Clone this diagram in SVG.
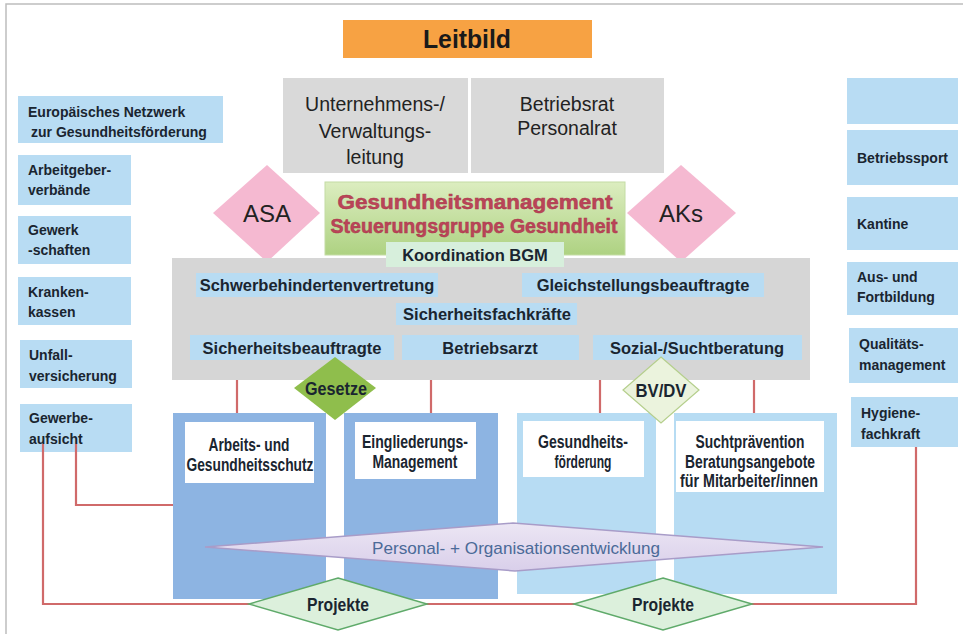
<svg xmlns="http://www.w3.org/2000/svg" width="963" height="634" viewBox="0 0 963 634">
<defs>
<linearGradient id="gGreen" x1="0" y1="0" x2="0" y2="1"><stop offset="0" stop-color="#dcedc0"/><stop offset="1" stop-color="#aed282"/></linearGradient>
<linearGradient id="gLav" x1="0" y1="0" x2="0" y2="1"><stop offset="0" stop-color="#ece6f4"/><stop offset="1" stop-color="#d9cfea"/></linearGradient>
<style>
.ext{fill:#b8dcf3}
.lbl{fill:#b8dcf3}
.t{font-family:"Liberation Sans",Arial,sans-serif;font-weight:bold;font-size:14px;fill:#1a2530}
.tm{font-family:"Liberation Sans",Arial,sans-serif;font-weight:bold;font-size:16.5px;fill:#1a2530;text-anchor:middle}
.tn{font-family:"Liberation Sans",Arial,sans-serif;font-weight:bold;font-size:17.5px;fill:#1a2530;text-anchor:middle}
.tg{font-family:"Liberation Sans",Arial,sans-serif;font-size:19.5px;fill:#222;text-anchor:middle}
.gray{fill:#d9d9d9}
.colD{fill:#8db4e2}
.colL{fill:#b7dcf3}
.wb{fill:#ffffff}
.pink{fill:#f5b9d1}
.red{fill:none;stroke:#d06a6a;stroke-width:2.2}
.proj{fill:#dcf0dc;stroke:#5faa6a;stroke-width:1.5}
</style>
</defs>
<rect x="0" y="0" width="963" height="634" fill="#ffffff"/>
<path d="M6 640 V4 H970" fill="none" stroke="#bdbdbd" stroke-width="1.5"/>

<g id="leitbild">
<rect x="343" y="20" width="249" height="38" fill="#f7a243"/>
<text x="467" y="48" text-anchor="middle" font-family="Liberation Sans,Arial,sans-serif" font-weight="bold" font-size="25" fill="#1a1a1a" textLength="88" lengthAdjust="spacingAndGlyphs">Leitbild</text>
</g>

<g id="leitung">
<rect class="gray" x="283" y="78" width="185" height="95"/>
<text class="tg" x="375" y="111">Unternehmens-/</text>
<text class="tg" x="375" y="138">Verwaltungs-</text>
<text class="tg" x="375" y="164">leitung</text>
</g>
<g id="betriebsrat">
<rect class="gray" x="471" y="78" width="193" height="95"/>
<text class="tg" x="567" y="111">Betriebsrat</text>
<text class="tg" x="567" y="135">Personalrat</text>
</g>

<g id="asa">
<polygon class="pink" points="267,165 320,213 267,262 213,213"/>
<text x="267" y="222" text-anchor="middle" font-family="Liberation Sans,Arial,sans-serif" font-size="24" fill="#222">ASA</text>
</g>
<g id="aks">
<polygon class="pink" points="681,165 736,213 681,262 627,213"/>
<text x="681" y="222" text-anchor="middle" font-family="Liberation Sans,Arial,sans-serif" font-size="24" fill="#222">AKs</text>
</g>

<g id="gremien">
<rect x="172" y="258" width="638" height="122" fill="#d6d6d6"/>
</g>

<g id="gesundheitsmanagement">
<rect x="325" y="182" width="300" height="73" fill="url(#gGreen)" stroke="#c4dca4" stroke-width="1"/>
<text x="475" y="209" text-anchor="middle" font-family="Liberation Sans,Arial,sans-serif" font-weight="bold" font-size="21" fill="#bb4458" stroke="#a83a4c" stroke-width="0.5" textLength="275" lengthAdjust="spacingAndGlyphs">Gesundheitsmanagement</text>
<text x="474" y="233" text-anchor="middle" font-family="Liberation Sans,Arial,sans-serif" font-weight="bold" font-size="20" fill="#bb4458" stroke="#a83a4c" stroke-width="0.5" textLength="287" lengthAdjust="spacingAndGlyphs">Steuerungsgruppe Gesundheit</text>
</g>
<g id="koordination">
<rect x="386" y="242" width="178" height="25" fill="#d7efdc"/>
<text class="tm" x="475" y="261">Koordination BGM</text>
</g>

<g id="schwerbehindertenvertretung"><rect class="lbl" x="196" y="273" width="242" height="24"/><text class="tm" x="317" y="291">Schwerbehindertenvertretung</text></g>
<g id="gleichstellungsbeauftragte"><rect class="lbl" x="522" y="273" width="242" height="24"/><text class="tm" x="643" y="291">Gleichstellungsbeauftragte</text></g>
<g id="sicherheitsfachkraefte"><rect class="lbl" x="396" y="303" width="181" height="22"/><text class="tm" x="487" y="320">Sicherheitsfachkräfte</text></g>
<g id="sicherheitsbeauftragte"><rect class="lbl" x="190" y="335" width="204" height="25"/><text class="tm" x="292" y="354">Sicherheitsbeauftragte</text></g>
<g id="betriebsarzt"><rect class="lbl" x="402" y="335" width="177" height="25"/><text class="tm" x="490" y="354">Betriebsarzt</text></g>
<g id="suchtberatung"><rect class="lbl" x="593" y="335" width="209" height="25"/><text class="tm" x="697" y="354">Sozial-/Suchtberatung</text></g>

<g id="europaeisches-netzwerk"><rect class="ext" x="18" y="96" width="205" height="47"/><text class="t" x="28" y="117">Europäisches Netzwerk</text><text class="t" x="31" y="137">zur Gesundheitsförderung</text></g>
<g id="arbeitgeberverbaende"><rect class="ext" x="18" y="155" width="113" height="50"/><text class="t" x="28" y="175">Arbeitgeber-</text><text class="t" x="28" y="195">verbände</text></g>
<g id="gewerkschaften"><rect class="ext" x="18" y="216" width="113" height="48"/><text class="t" x="28" y="235">Gewerk</text><text class="t" x="28" y="255">-schaften</text></g>
<g id="krankenkassen"><rect class="ext" x="18" y="277" width="113" height="48"/><text class="t" x="28" y="297">Kranken-</text><text class="t" x="28" y="317">kassen</text></g>
<g id="unfallversicherung"><rect class="ext" x="20" y="340" width="112" height="48"/><text class="t" x="29" y="360">Unfall-</text><text class="t" x="29" y="381">versicherung</text></g>
<g id="gewerbeaufsicht"><rect class="ext" x="20" y="404" width="112" height="48"/><text class="t" x="29" y="423">Gewerbe-</text><text class="t" x="29" y="444">aufsicht</text></g>

<g id="leer"><rect class="ext" x="847" y="78" width="111" height="46"/></g>
<g id="betriebssport"><rect class="ext" x="847" y="130" width="111" height="55"/><text class="t" x="857" y="163" font-size="14.5">Betriebssport</text></g>
<g id="kantine"><rect class="ext" x="847" y="197" width="111" height="53"/><text class="t" x="857" y="229" font-size="14.5">Kantine</text></g>
<g id="fortbildung"><rect class="ext" x="847" y="262" width="111" height="53"/><text class="t" x="857" y="282" font-size="14.5">Aus- und</text><text class="t" x="857" y="302" font-size="14.5">Fortbildung</text></g>
<g id="qualitaetsmanagement"><rect class="ext" x="849" y="328" width="109" height="55"/><text class="t" x="859" y="349" font-size="14.5">Qualitäts-</text><text class="t" x="859" y="370" font-size="14.5">management</text></g>
<g id="hygienefachkraft"><rect class="ext" x="851" y="397" width="107" height="50"/><text class="t" x="861" y="418" font-size="14.5">Hygiene-</text><text class="t" x="861" y="439" font-size="14.5">fachkraft</text></g>

<g id="connectors">
<line class="red" x1="237" y1="380" x2="237" y2="413"/>
<line class="red" x1="431" y1="380" x2="431" y2="413"/>
<line class="red" x1="600" y1="380" x2="600" y2="413"/>
<line class="red" x1="754" y1="380" x2="754" y2="413"/>
<polyline class="red" points="43,444 43,604 916,604 916,447"/>
<polyline class="red" points="76,444 76,505 173,505"/>
</g>

<g id="col-arbeitsschutz">
<rect class="colD" x="173" y="413" width="153" height="186"/>
<rect class="wb" x="185" y="422" width="129" height="61"/>
<text class="tn" x="249" y="451" textLength="81" lengthAdjust="spacingAndGlyphs">Arbeits- und</text>
<text class="tn" x="250" y="471" textLength="127" lengthAdjust="spacingAndGlyphs">Gesundheitsschutz</text>
</g>
<g id="col-eingliederung">
<rect class="colD" x="344" y="413" width="154" height="186"/>
<rect class="wb" x="355" y="422" width="121" height="57"/>
<text class="tn" x="415" y="448" textLength="106" lengthAdjust="spacingAndGlyphs">Eingliederungs-</text>
<text class="tn" x="415" y="468" textLength="85" lengthAdjust="spacingAndGlyphs">Management</text>
</g>
<g id="col-gesundheitsfoerderung">
<rect class="colL" x="517" y="413" width="139" height="181"/>
<rect class="wb" x="523" y="421" width="121" height="56"/>
<text class="tn" x="583" y="448" textLength="90" lengthAdjust="spacingAndGlyphs">Gesundheits-</text>
<text class="tn" x="583" y="468" textLength="57" lengthAdjust="spacingAndGlyphs">förderung</text>
</g>
<g id="col-suchtpraevention">
<rect class="colL" x="674" y="413" width="163" height="181"/>
<rect class="wb" x="676" y="421" width="148" height="71"/>
<text class="tn" x="750" y="448" textLength="109" lengthAdjust="spacingAndGlyphs">Suchtprävention</text>
<text class="tn" x="750" y="468" textLength="130" lengthAdjust="spacingAndGlyphs">Beratungsangebote</text>
<text class="tn" x="749" y="487" textLength="138" lengthAdjust="spacingAndGlyphs">für Mitarbeiter/innen</text>
</g>

<g id="gesetze">
<polygon points="335,357 376,388 335,420 294,388" fill="#8fbe4c"/>
<text class="tn" x="336" y="395" textLength="62" lengthAdjust="spacingAndGlyphs">Gesetze</text>
</g>
<g id="bvdv">
<polygon points="661,357 699,390 661,423 623,390" fill="#ebf3dd" stroke="#b5cf8c" stroke-width="1.2"/>
<text class="tn" x="661" y="397" textLength="51" lengthAdjust="spacingAndGlyphs">BV/DV</text>
</g>

<g id="personalentwicklung">
<polygon points="205,547 513,523 823,547 515,571" fill="url(#gLav)" stroke="#a89cc8" stroke-width="1.5"/>
<text x="516" y="554" text-anchor="middle" font-family="Liberation Sans,Arial,sans-serif" font-size="17" fill="#4b6a98" textLength="288" lengthAdjust="spacingAndGlyphs">Personal- + Organisationsentwicklung</text>
</g>

<g id="projekte-1">
<polygon class="proj" points="338,578 427,604 338,630 249,604"/>
<text class="tn" x="338" y="611" textLength="62" lengthAdjust="spacingAndGlyphs">Projekte</text>
</g>
<g id="projekte-2">
<polygon class="proj" points="663,578 752,604 663,630 574,604"/>
<text class="tn" x="663" y="611" textLength="62" lengthAdjust="spacingAndGlyphs">Projekte</text>
</g>
</svg>
